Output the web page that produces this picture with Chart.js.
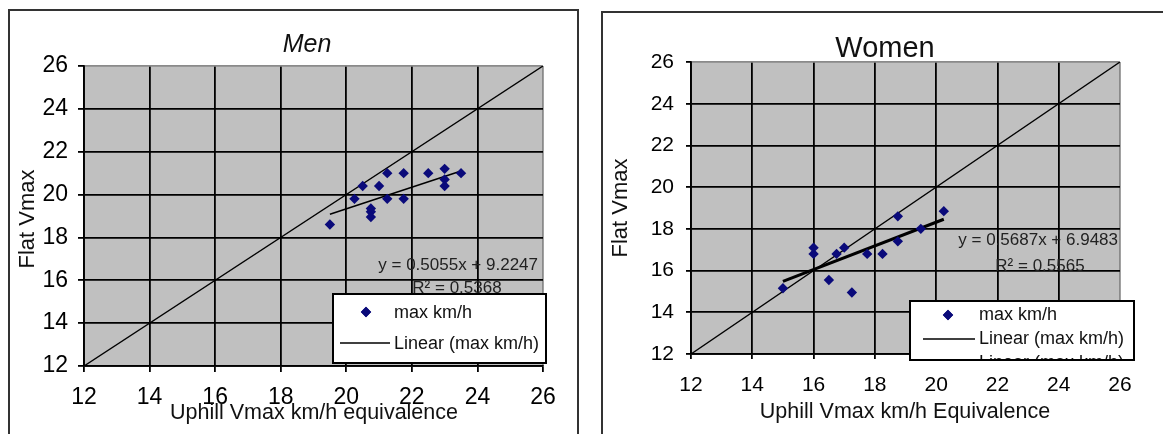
<!DOCTYPE html>
<html>
<head>
<meta charset="utf-8">
<script src="https://cdn.jsdelivr.net/npm/chart.js@4.4.1/dist/chart.umd.min.js"></script>
<style>
  html, body { margin: 0; padding: 0; background: #fff; overflow: hidden; }
  #wrap { position: relative; width: 1163px; height: 434px; }
  canvas { position: absolute; top: 0; }
  #men { left: 0; }
  #women { left: 590px; }
</style>
</head>
<body>
<div id="wrap">
  <canvas id="men" width="590" height="434"></canvas>
  <canvas id="women" width="573" height="434"></canvas>
</div>
<script>
// axis ticks (both charts)
const tickMin = 12;
const tickMax = 26;
const tickStep = 2;

// identity line y = x
const diagX = [12, 26];
const diagY = [12, 26];

// men: uphill equivalence vs flat vmax
const menUphill = [19.5, 20.25, 20.5, 20.75, 20.75, 20.75, 21.0, 21.25, 21.25, 21.75, 21.75, 22.5, 23.0, 23.0, 23.0, 23.5];
const menFlat   = [18.6, 19.8, 20.4, 19.35, 19.2, 18.95, 20.4, 21.0, 19.8, 21.0, 19.8, 21.0, 21.2, 20.7, 20.4, 21.0];
const menTrendX = [19.5, 23.5];
const menTrendY = [19.08, 21.1];
const menEquation = ['y = 0.5055x + 9.2247', 'R\u00b2 = 0.5368'];

// women
const womenUphill = [15.0, 16.0, 16.0, 16.5, 16.75, 17.0, 17.25, 17.75, 18.25, 18.75, 18.75, 19.5, 20.25];
const womenFlat   = [15.15, 17.1, 16.8, 15.55, 16.8, 17.1, 14.95, 16.8, 16.8, 18.6, 17.4, 18.0, 18.85];
const womenTrendX = [15.0, 20.25];
const womenTrendY = [15.48, 18.46];
const womenEquation = ['y = 0.5687x + 6.9483', 'R\u00b2 = 0.5565'];

const legendLabels = ['max km/h', 'Linear (max km/h)'];
const yTitle = 'Flat Vmax';

const navy = '#0a0a7a';
const ink = '#111';
Chart.defaults.font.family = '"Liberation Sans", Arial, sans-serif';

function pts(xs, ys) {
  return xs.map((x, i) => ({ x: x, y: ys[i] }));
}

// frame, grey plot area, titles, equation and the legend box
const deco = {
  id: 'deco',
  beforeDraw(chart, args, o) {
    const { ctx, chartArea: a } = chart;
    ctx.save();
    ctx.fillStyle = '#fff';
    ctx.fillRect(0, 0, chart.width, chart.height);
    ctx.fillStyle = '#c0c0c0';
    ctx.fillRect(a.left, a.top, a.right - a.left, a.bottom - a.top);
    ctx.strokeStyle = '#333';
    ctx.lineWidth = 2;
    ctx.strokeRect(o.frame[0], o.frame[1], o.frame[2], o.frame[3]);
    ctx.restore();
  },
  afterDraw(chart, args, o) {
    const ctx = chart.ctx;
    ctx.save();
    ctx.fillStyle = ink;
    ctx.textBaseline = 'alphabetic';

    ctx.font = o.titleFont;
    ctx.textAlign = 'center';
    ctx.fillText(o.title, o.titlePos[0], o.titlePos[1]);

    ctx.font = '21.5px "Liberation Sans", Arial, sans-serif';
    ctx.fillText(o.xTitle, o.xTitlePos[0], o.xTitlePos[1]);

    ctx.save();
    ctx.translate(o.yTitlePos[0], o.yTitlePos[1]);
    ctx.rotate(-Math.PI / 2);
    ctx.font = '22px "Liberation Sans", Arial, sans-serif';
    ctx.textBaseline = 'middle';
    ctx.fillText(yTitle, 0, 0);
    ctx.restore();

    ctx.font = '17px "Liberation Sans", Arial, sans-serif';
    ctx.fillStyle = '#222';
    ctx.textAlign = 'right';
    ctx.fillText(o.equation[0], o.eqPos[0], o.eqPos[1]);
    ctx.textAlign = 'center';
    ctx.fillText(o.equation[1], o.r2Pos[0], o.r2Pos[1]);

    // legend
    const b = o.legendBox;
    ctx.fillStyle = '#fff';
    ctx.fillRect(b[0], b[1], b[2], b[3]);
    ctx.save();
    ctx.beginPath();
    ctx.rect(b[0], b[1], b[2], b[3]);
    ctx.clip();
    ctx.fillStyle = navy;
    Chart.helpers.drawPoint(ctx, { pointStyle: 'rectRot', radius: 5.2, rotation: 0, borderWidth: 0 }, o.markerPos[0], o.markerPos[1]);
    ctx.fill();
    ctx.strokeStyle = '#000';
    ctx.lineWidth = o.trendWidth;
    ctx.beginPath();
    ctx.moveTo(o.linePos[0], o.linePos[2]);
    ctx.lineTo(o.linePos[1], o.linePos[2]);
    ctx.stroke();
    ctx.fillStyle = ink;
    ctx.textAlign = 'left';
    ctx.font = '18px "Liberation Sans", Arial, sans-serif';
    for (let i = 0; i < o.legendRows.length; i++) {
      ctx.fillText(legendLabels[o.legendRows[i]], o.legendTextX, o.legendTextY[i]);
    }
    ctx.restore();
    ctx.strokeStyle = '#000';
    ctx.lineWidth = 2;
    ctx.strokeRect(b[0], b[1], b[2], b[3]);
    ctx.restore();
  }
};

function axis(fontSize, tickLen, pad, fitKey, fitVal) {
  return {
    type: 'linear',
    min: tickMin,
    max: tickMax,
    ticks: { stepSize: tickStep, color: '#000', padding: pad, font: { size: fontSize } },
    grid: {
      color: c => (c.tick && c.tick.value === tickMax ? '#8a8a8a' : '#000'),
      tickColor: '#000',
      lineWidth: 1.8,
      tickLength: tickLen
    },
    border: { color: '#000', width: 1.8 },
    afterFit(scale) { scale[fitKey] = fitVal; }
  };
}

function makeChart(id, xs, ys, tx, ty, trendWidth, lay, decoOpts) {
  return new Chart(document.getElementById(id), {
    type: 'scatter',
    data: {
      datasets: [
        { label: legendLabels[0], data: pts(xs, ys), pointStyle: 'rectRot', pointRadius: 5.2,
          backgroundColor: navy, borderColor: navy, borderWidth: 0 },
        { label: legendLabels[1], data: pts(tx, ty), showLine: true, pointRadius: 0,
          borderColor: '#000', borderWidth: trendWidth },
        { label: 'y = x', data: pts(diagX, diagY), showLine: true, pointRadius: 0,
          borderColor: '#000', borderWidth: 1.4 }
      ]
    },
    options: {
      responsive: false,
      animation: false,
      events: [],
      layout: { padding: { left: 0, top: lay.top, right: lay.right, bottom: 0 } },
      scales: {
        x: axis(lay.font, lay.tick, lay.xPad, 'height', lay.xH),
        y: axis(lay.font, lay.tick, lay.yPad, 'width', lay.yW)
      },
      plugins: { legend: { display: false }, tooltip: { enabled: false }, deco: decoOpts }
    },
    plugins: [deco]
  });
}

makeChart('men', menUphill, menFlat, menTrendX, menTrendY, 1.5,
  { top: 66, right: 47, xH: 68, yW: 84, font: 23, tick: 6, xPad: 12, yPad: 10 },
  {
    frame: [9, 10, 569, 440],
    title: 'Men', titleFont: 'italic 25px "Liberation Sans", Arial, sans-serif', titlePos: [307, 52],
    xTitle: 'Uphill Vmax km/h equivalence', xTitlePos: [314, 419],
    yTitlePos: [28, 219],
    equation: menEquation, eqPos: [538, 270], r2Pos: [457, 293],
    legendBox: [333, 294, 213, 69], markerPos: [366, 312], linePos: [340, 390, 343],
    trendWidth: 1.5, legendRows: [0, 1], legendTextX: 394, legendTextY: [318, 349]
  });

makeChart('women', womenUphill, womenFlat, womenTrendX, womenTrendY, 3,
  { top: 62, right: 43, xH: 80, yW: 101, font: 21, tick: 5, xPad: 14, yPad: 12 },
  {
    frame: [12, 12, 600, 440],
    title: 'Women', titleFont: '29px "Liberation Sans", Arial, sans-serif', titlePos: [295, 57],
    xTitle: 'Uphill Vmax km/h Equivalence', xTitlePos: [315, 418],
    yTitlePos: [31, 208],
    equation: womenEquation, eqPos: [528, 245], r2Pos: [450, 271],
    legendBox: [320, 301, 224, 59], markerPos: [358, 315], linePos: [333, 385, 339],
    trendWidth: 1.5, legendRows: [0, 1, 1], legendTextX: 389, legendTextY: [320, 344, 368]
  });
</script>
</body>
</html>
